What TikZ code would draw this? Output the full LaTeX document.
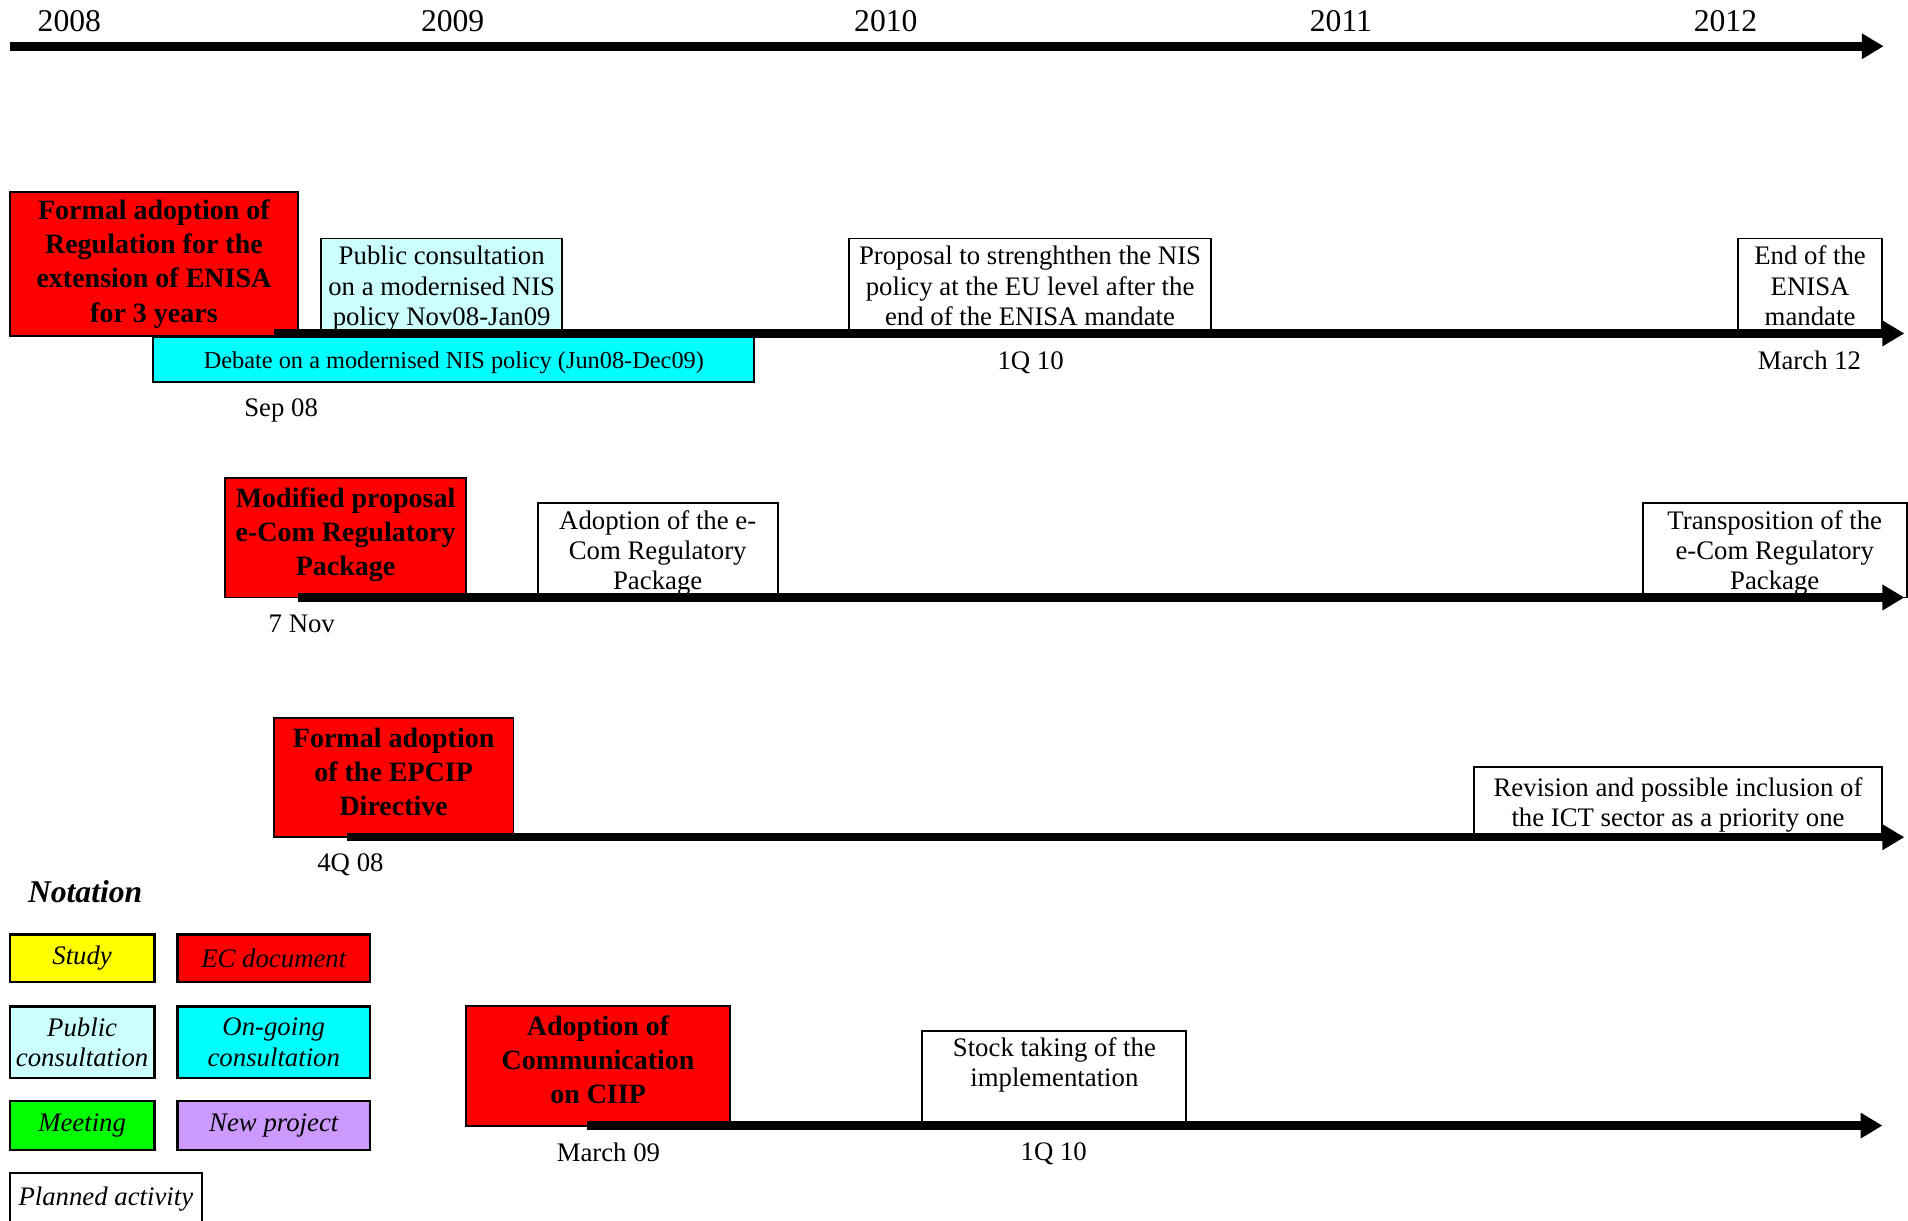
\documentclass[tikz,border=0pt]{standalone}
\usepackage{fontspec}
\setmainfont{Liberation Serif}
\usetikzlibrary{arrows.meta}

\definecolor{ecred}{HTML}{FF0000}
\definecolor{pubcyan}{HTML}{CCFFFF}
\definecolor{gocyan}{HTML}{00FFFF}
\definecolor{studyyellow}{HTML}{FFFF00}
\definecolor{meetgreen}{HTML}{00FF00}
\definecolor{newpurple}{HTML}{CC99FF}

\begin{document}
\begin{tikzpicture}[x=0.5pt,y=-0.5pt,
      every node/.style={inner sep=0pt,align=center},
      ecdoc/.style={draw,line width=0.8pt,fill=ecred,font=\fontsize{11.5}{14}\selectfont\bfseries},
      planned/.style={draw,line width=0.8pt,fill=white,text depth=0pt,font=\fontsize{11}{12.5}\selectfont},
      pubcons/.style={planned,fill=pubcyan},
      ongoing/.style={planned,fill=gocyan,font=\fontsize{10}{12}\selectfont},
      timeline/.style={line width=3.5pt,-{Triangle[length=9pt,width=10pt]}},
      datelabel/.style={font=\fontsize{11}{12.5}\selectfont},
      yearlabel/.style={font=\fontsize{13}{15}\selectfont},
      legend/.style={draw,line width=1pt,minimum width=59.5pt,font=\fontsize{11}{12.5}\selectfont\itshape}
     ]
\useasboundingbox (0,0) rectangle (1568,1003);

% years
\node[yearlabel] (y2008) at (57,17) {2008};
\node[yearlabel] (y2009) at (372,17) {2009};
\node[yearlabel] (y2010) at (728,17) {2010};
\node[yearlabel] (y2011) at (1102,17) {2011};
\node[yearlabel] (y2012) at (1418,17) {2012};

% ENISA row
\node[ecdoc,minimum width=118.5pt,minimum height=59pt] (enisa) at (126.5,217)
    {Formal adoption of\\Regulation for the\\extension of ENISA\\for 3 years};
\node[pubcons,minimum width=99pt,minimum height=39pt] (nispub) at (363,235)
    {Public consultation\\on a modernised NIS\\policy Nov08-Jan09};
\node[ongoing,minimum width=247pt,minimum height=18.5pt] (debate) at (373,295.5)
    {Debate on a modernised NIS policy (Jun08-Dec09)};
\node[planned,minimum width=148.5pt,minimum height=39pt] (nisprop) at (846.5,235)
    {Proposal to strenghthen the NIS\\policy at the EU level after the\\end of the ENISA mandate};
\node[planned,minimum width=59.5pt,minimum height=39pt] (enisaend) at (1487.5,235)
    {End of the\\ENISA\\mandate};
\node[datelabel] (sep08) at (231,337) {Sep 08};
\node[datelabel] (q110a) at (847,298) {1Q 10};
\node[datelabel] (mar12) at (1487,296) {March 12};

% e-Com row
\node[ecdoc,minimum width=99pt,minimum height=49pt,text depth=5pt] (modprop) at (284,442)
    {Modified proposal\\e-Com Regulatory\\Package};
\node[planned,minimum width=98.5pt,minimum height=39pt] (ecomadopt) at (540.5,452)
    {Adoption of the e-\\Com Regulatory\\Package};
\node[planned,minimum width=108.5pt,minimum height=39pt] (ecomtrans) at (1458.5,452)
    {Transposition of the\\e-Com Regulatory\\Package};
\node[datelabel] (nov7) at (248,513) {7 Nov};

% EPCIP row
\node[ecdoc,minimum width=98.5pt,minimum height=49pt,text depth=5pt] (epcip) at (323.5,639)
    {Formal adoption\\of the EPCIP\\Directive};
\node[planned,minimum width=168pt,minimum height=29pt] (revision) at (1379,659)
    {Revision and possible inclusion of\\the ICT sector as a priority one};
\node[datelabel] (q408) at (288,711) {4Q 08};

% CIIP row
\node[ecdoc,minimum width=108.5pt,minimum height=49pt,text depth=5pt] (ciip) at (491.5,876)
    {Adoption of\\Communication\\on CIIP};
\node[planned,minimum width=108.5pt,minimum height=39pt,text depth=13pt] (stock) at (866.5,886)
    {Stock taking of the\\implementation};
\node[datelabel] (mar09) at (500,947) {March 09};
\node[datelabel] (q110b) at (866,948) {1Q 10};

% time lines
\coordinate (top0) at (8,38);     \coordinate (top1) at (1548,38);
\coordinate (enisa0) at (225,274); \coordinate (enisa1) at (1565,274);
\coordinate (ecom0) at (245,491);  \coordinate (ecom1) at (1565,491);
\coordinate (epcip0) at (285,688); \coordinate (epcip1) at (1565,688);
\coordinate (ciip0) at (482,925);  \coordinate (ciip1) at (1547,925);
\draw[timeline] (top0) -- (top1);
\draw[timeline] (enisa0) -- (enisa1);
\draw[timeline] (ecom0) -- (ecom1);
\draw[timeline] (epcip0) -- (epcip1);
\draw[timeline] (ciip0) -- (ciip1);

% notation
\node[font=\fontsize{13}{15}\selectfont\bfseries\itshape] (notation) at (70,733) {Notation};
\node[legend,minimum height=19.5pt,fill=studyyellow] (lstudy) at (67.5,787.5) {Study};
\node[legend,minimum width=79pt,minimum height=19.5pt,fill=ecred] (lecdoc) at (225,787.5) {EC document};
\node[legend,minimum height=29.5pt,fill=pubcyan] (lpub) at (67.5,856.5) {Public\\consultation};
\node[legend,minimum width=79pt,minimum height=29.5pt,fill=gocyan] (lgoing) at (225,856.5) {On-going\\consultation};
\node[legend,minimum height=20pt,fill=meetgreen] (lmeet) at (67.5,925) {Meeting};
\node[legend,minimum width=79pt,minimum height=20pt,fill=newpurple] (lnew) at (225,925) {New project};
\node[legend,minimum width=79pt,minimum height=21pt,fill=white] (lplan) at (87,985) {Planned activity};
\end{tikzpicture}
\end{document}
